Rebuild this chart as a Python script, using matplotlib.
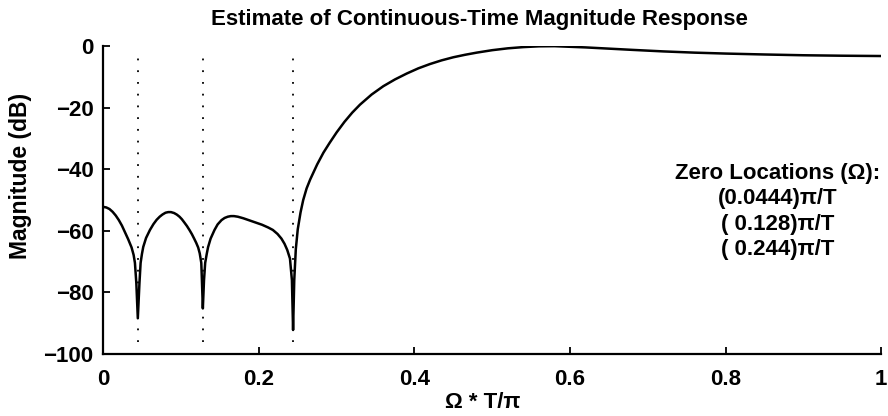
import matplotlib
matplotlib.use("Agg")
import matplotlib.pyplot as plt

plt.rcParams['font.family'] = ['Liberation Sans', 'DejaVu Sans']

# Frequency (normalized, Omega*T/pi) and magnitude (dB)
freq = [0.000, 0.004, 0.008, 0.012, 0.016, 0.020, 0.024, 0.028, 0.032, 0.0364,
        0.039, 0.0407, 0.0425, 0.0444, 0.0465, 0.048, 0.0497, 0.0514, 0.055, 0.060,
        0.0645, 0.0686, 0.0725, 0.076, 0.080, 0.0835, 0.087, 0.091, 0.0945, 0.098,
        0.101, 0.104, 0.1075, 0.111, 0.114, 0.117, 0.1195, 0.122, 0.124, 0.126,
        0.1268, 0.128, 0.1295, 0.131, 0.133, 0.1347, 0.138, 0.143, 0.147, 0.152,
        0.156, 0.160, 0.164, 0.168, 0.173, 0.180, 0.188, 0.196, 0.204, 0.212,
        0.218, 0.224, 0.229, 0.233, 0.2365, 0.240, 0.2425, 0.244, 0.2455, 0.2475,
        0.250, 0.2536, 0.257, 0.2614, 0.266, 0.275, 0.283, 0.291, 0.300, 0.310,
        0.320, 0.330, 0.345, 0.360, 0.375, 0.390, 0.405, 0.420, 0.435, 0.450,
        0.465, 0.480, 0.500, 0.520, 0.540, 0.560, 0.580, 0.600, 0.620, 0.650,
        0.680, 0.720, 0.760, 0.800, 0.850, 0.900, 0.950, 1.000]
mag_db = [-52.2, -52.4, -52.9, -53.8, -55.0, -56.5, -58.3, -60.5, -62.7, -65.4,
          -67.8, -70.4, -77.0, -88.4, -77.0, -70.4, -67.5, -65.2, -62.3, -59.7,
          -57.8, -56.4, -55.4, -54.7, -54.1, -53.9, -53.9, -54.2, -54.7, -55.4,
          -56.2, -57.2, -58.4, -59.8, -61.1, -62.6, -63.9, -65.4, -67.3, -70.4,
          -76.0, -85.2, -76.0, -70.4, -67.5, -65.3, -62.5, -59.7, -57.9, -56.5,
          -55.8, -55.4, -55.2, -55.2, -55.4, -55.9, -56.6, -57.3, -58.0, -58.9,
          -59.7, -61.0, -62.5, -64.2, -66.2, -69.0, -76.0, -92.2, -76.0, -66.0,
          -59.5, -54.0, -50.0, -46.2, -43.3, -38.4, -34.6, -31.4, -28.0, -24.6,
          -21.6, -19.0, -15.7, -13.0, -10.8, -8.9, -7.2, -5.8, -4.6, -3.6,
          -2.8, -2.1, -1.3, -0.7, -0.3, -0.05, 0.0, -0.2, -0.4, -0.8,
          -1.2, -1.7, -2.1, -2.4, -2.7, -2.95, -3.1, -3.2]

zeros = [0.0444, 0.128, 0.244]
zero_labels = ["(0.0444)\u03c0/T", "( 0.128)\u03c0/T", "( 0.244)\u03c0/T"]

xticks = [0, 0.2, 0.4, 0.6, 0.8, 1]
xtick_labels = ["0", "0.2", "0.4", "0.6", "0.8", "1"]
yticks = [0, -20, -40, -60, -80, -100]

fig = plt.figure(figsize=(8.88, 4.16), dpi=100)
ax = fig.add_axes([0.1163, 0.149, 0.876, 0.740])

ax.plot(freq, mag_db, color='black', linewidth=1.8)
for z in zeros:
    ax.vlines(z, -96.2, -3.5, colors='black', linestyles=(0, (1, 5.5)), linewidth=1.3)

ax.set_xlim(0, 1)
ax.set_ylim(-100, 0)
ax.set_xticks(xticks)
ax.set_xticklabels(xtick_labels)
ax.set_yticks(yticks)
ax.spines['top'].set_visible(False)
ax.spines['right'].set_visible(False)
for s in ('left', 'bottom'):
    ax.spines[s].set_linewidth(1.6)
ax.tick_params(direction='in', length=5, width=1.3, labelsize=16)
ax.tick_params(axis='x', pad=11)
ax.tick_params(axis='y', pad=7)
for lab in ax.get_xticklabels() + ax.get_yticklabels():
    lab.set_fontweight('bold')

ax.set_title("Estimate of Continuous-Time Magnitude Response",
             fontsize=16, fontweight='bold', pad=15, x=0.4836)
ax.set_xlabel("\u03a9 * T/\u03c0", fontsize=16, fontweight='bold')
ax.xaxis.set_label_coords(0.488, -0.125)
ax.set_ylabel("Magnitude (dB)", fontsize=16.5, fontweight='bold')
ax.yaxis.set_label_coords(-0.092, 0.578)

text = "Zero Locations (\u03a9):\n" + "\n".join(zero_labels)
ax.text(0.867, -38.0, text, ha='center', va='top', ma='center',
        fontsize=16, fontweight='bold', linespacing=1.27)

fig.savefig("out.png", dpi=100)
